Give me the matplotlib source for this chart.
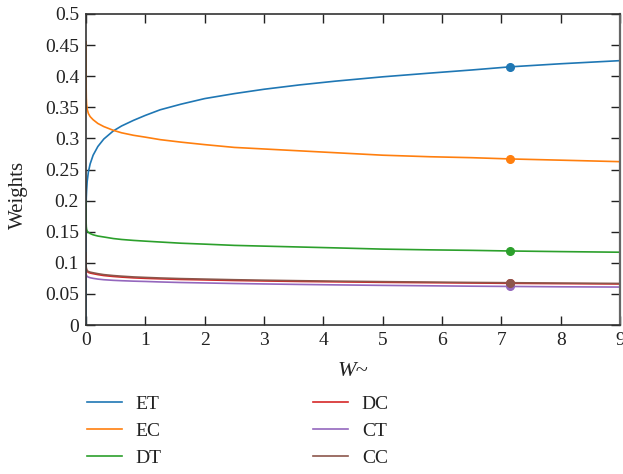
import matplotlib
matplotlib.use("Agg")
import matplotlib.pyplot as plt

plt.rcParams['font.family'] = ['Liberation Serif', 'DejaVu Serif']

x = [0, 0.0005, 0.002, 0.005, 0.01, 0.02, 0.04, 0.07, 0.12, 0.2, 0.3, 0.46, 0.6, 0.8,
     1.0, 1.25, 1.6, 2.0, 2.5, 3.0, 3.6, 4.2, 5.0, 5.8, 6.5, 7.14, 8.0, 9.0]

ET = [0, 0.16, 0.19, 0.205, 0.216, 0.231, 0.246, 0.259, 0.273, 0.287, 0.299, 0.312, 0.320, 0.329,
      0.337, 0.346, 0.355, 0.364, 0.372, 0.379, 0.386, 0.392, 0.399, 0.405, 0.410, 0.415, 0.420, 0.425]
EC = [0.455, 0.42, 0.385, 0.365, 0.355, 0.347, 0.340, 0.335, 0.330, 0.324, 0.319, 0.313, 0.309, 0.305,
      0.302, 0.298, 0.294, 0.290, 0.2855, 0.283, 0.280, 0.277, 0.273, 0.2705, 0.269, 0.267, 0.265, 0.2626]
DT = [0.2, 0.18, 0.166, 0.158, 0.154, 0.151, 0.149, 0.147, 0.145, 0.143, 0.1415, 0.139, 0.1375, 0.136,
      0.1348, 0.1334, 0.1315, 0.130, 0.128, 0.1268, 0.1254, 0.124, 0.122, 0.1208, 0.120, 0.119, 0.118, 0.117]
DC = [0.112, 0.100, 0.094, 0.090, 0.088, 0.086, 0.0845, 0.0835, 0.0825, 0.081, 0.0795, 0.078, 0.077, 0.0758,
      0.075, 0.0742, 0.0732, 0.0725, 0.0715, 0.0708, 0.070, 0.0694, 0.0686, 0.068, 0.0675, 0.067, 0.0665, 0.066]
CT = [0.092, 0.086, 0.083, 0.081, 0.0795, 0.078, 0.077, 0.076, 0.075, 0.0738, 0.0728, 0.0718, 0.0712, 0.0705,
      0.070, 0.0692, 0.0683, 0.0676, 0.0667, 0.066, 0.0652, 0.0645, 0.0637, 0.063, 0.0624, 0.062, 0.0614, 0.061]
CC = [0.116, 0.103, 0.096, 0.092, 0.0895, 0.0875, 0.086, 0.085, 0.084, 0.0825, 0.081, 0.0795, 0.0785, 0.0773,
      0.0765, 0.0756, 0.0746, 0.0738, 0.0728, 0.072, 0.0712, 0.0705, 0.0697, 0.069, 0.0684, 0.068, 0.0674, 0.0668]

series = [("ET", ET, "#1f77b4"), ("EC", EC, "#ff7f0e"), ("DT", DT, "#2ca02c"),
          ("DC", DC, "#d62728"), ("CT", CT, "#9467bd"), ("CC", CC, "#8c564b")]
marker_x = 7.14
mi = x.index(marker_x)

fig = plt.figure(figsize=(6.23, 4.74), dpi=100)
ax = fig.add_axes([86/623, 1-325/474, (620-86)/623, (325-14)/474])

handles = []
for name, vals, col in series:
    h, = ax.plot(x, vals, color=col, lw=1.2, label=name)
    handles.append(h)
for name, vals, col in series:
    ax.plot([x[mi]], [vals[mi]], 'o', color=col, ms=5.5, zorder=5)

ax.set_xlim(0, 9)
ax.set_ylim(0, 0.5)
ax.set_xticks(range(0, 10))
ax.set_yticks([0, 0.05, 0.1, 0.15, 0.2, 0.25, 0.3, 0.35, 0.4, 0.45, 0.5])
ax.set_yticklabels(['0', '0.05', '0.1', '0.15', '0.2', '0.25', '0.3', '0.35', '0.4', '0.45', '0.5'])
ax.tick_params(direction='in', length=6.5, width=1.0, top=True, right=True,
               labelsize=14, colors='#222222', pad=5)
for s in ['left', 'bottom', 'top']:
    ax.spines[s].set_color('#333333')
    ax.spines[s].set_linewidth(1.2)
ax.spines['right'].set_color('#666666')
ax.spines['right'].set_linewidth(1.6)

fig.text(18/623, 1-195/474, 'Weights', rotation=90, ha='center', va='center', fontsize=15, color='#222222')
fig.text(353/623, 1-372/474, 'W~', ha='center', va='center', fontsize=16, style='italic', color='#222222')

leg = fig.legend(handles=handles, loc='upper left', bbox_to_anchor=(87/623, 1-395/474),
                 ncol=2, frameon=False, fontsize=14, handlelength=1.8, handletextpad=0.7,
                 columnspacing=7.8, labelspacing=0.5, borderpad=0, borderaxespad=0)
for t in leg.get_texts():
    t.set_color('#222222')

fig.savefig('out.png', dpi=100)
